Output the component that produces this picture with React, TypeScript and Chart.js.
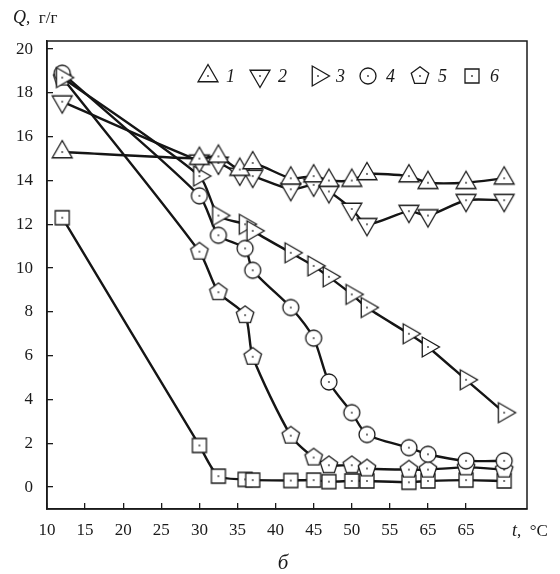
import React, { useEffect, useRef } from "react";
import { Chart, registerables } from "chart.js";

Chart.register(...registerables);

// ---- data ----
const tempsTri = [12, 30, 32.5, 35.3, 37, 42, 45, 47, 50, 52, 57.5, 60, 65, 70];
const tempsOther = [12, 30, 32.5, 36, 37, 42, 45, 47, 50, 52, 57.5, 60, 65, 70];
const series1 = [15.3, 15.0, 15.1, 14.5, 14.8, 14.1, 14.2, 14.0, 14.0, 14.3, 14.2, 13.9, 13.9, 14.1];
const series2 = [17.6, 14.9, 14.8, 14.3, 14.2, 13.6, 13.8, 13.5, 12.7, 12.0, 12.6, 12.4, 13.1, 13.1];
const series3 = [18.7, 14.2, 12.4, 12.0, 11.7, 10.7, 10.1, 9.6, 8.8, 8.2, 7.0, 6.4, 4.9, 3.4];
const series4 = [18.9, 13.3, 11.5, 10.9, 9.9, 8.2, 6.8, 4.8, 3.4, 2.4, 1.8, 1.5, 1.2, 1.2];
const series5 = [18.7, 10.75, 8.9, 7.85, 5.95, 2.35, 1.35, 1.0, 1.0, 0.85, 0.8, 0.8, 0.9, 0.8];
const series6 = [12.3, 1.9, 0.5, 0.35, 0.32, 0.3, 0.32, 0.25, 0.28, 0.28, 0.22, 0.28, 0.32, 0.28];
const seriesLabels = ["1", "2", "3", "4", "5", "6"];
const xTickValues = [10, 15, 20, 25, 30, 35, 40, 45, 50, 55, 60, 65];
const xTickLabels = ["10", "15", "20", "25", "30", "35", "40", "45", "50", "55", "65", "65"];
const yTickValues = [0, 2, 4, 6, 8, 10, 12, 14, 16, 18, 20];

const FONT = "'Liberation Serif', 'DejaVu Serif', serif";
const INK = "#1a1a1a";

type Kind = "up" | "down" | "right" | "circle" | "pentagon" | "square";

function makeMarker(kind: Kind): HTMLCanvasElement {
  const size = 28;
  const c = document.createElement("canvas");
  c.width = size;
  c.height = size;
  const ctx = c.getContext("2d")!;
  const cx = size / 2;
  const cy = size / 2;
  ctx.lineWidth = 1.3;
  ctx.strokeStyle = INK;
  ctx.fillStyle = "#ffffff";
  ctx.lineJoin = "miter";
  const poly = (n: number, r: number, startDeg: number) => {
    ctx.beginPath();
    for (let k = 0; k < n; k++) {
      const a = ((startDeg + (360 / n) * k) * Math.PI) / 180;
      const px = cx + r * Math.cos(a);
      const py = cy + r * Math.sin(a);
      if (k === 0) ctx.moveTo(px, py);
      else ctx.lineTo(px, py);
    }
    ctx.closePath();
  };
  if (kind === "up") poly(3, 11.5, -90);
  else if (kind === "down") poly(3, 11.5, 90);
  else if (kind === "right") poly(3, 11.5, 0);
  else if (kind === "pentagon") poly(5, 9.2, -90);
  else if (kind === "circle") {
    ctx.beginPath();
    ctx.arc(cx, cy, 8, 0, Math.PI * 2);
  } else {
    ctx.beginPath();
    ctx.rect(cx - 7, cy - 7, 14, 14);
  }
  ctx.fill();
  ctx.stroke();
  ctx.beginPath();
  ctx.fillStyle = "#333";
  ctx.arc(cx, cy, 0.9, 0, Math.PI * 2);
  ctx.fill();
  return c;
}

const legendXs = [208, 260, 318, 368, 420, 472];

const extrasPlugin = {
  id: "extras",
  afterDraw(chart: any) {
    const ctx = chart.ctx as CanvasRenderingContext2D;
    const a = chart.chartArea;
    ctx.save();
    // frame
    ctx.strokeStyle = INK;
    ctx.lineWidth = 1.5;
    ctx.strokeRect(a.left, a.top, a.right - a.left, a.bottom - a.top);
    // legend
    ctx.textBaseline = "middle";
    ctx.textAlign = "left";
    ctx.fillStyle = INK;
    chart.data.datasets.forEach((ds: any, i: number) => {
      const img = ds.pointStyle as HTMLCanvasElement;
      const x = legendXs[i];
      const y = 76;
      ctx.drawImage(img, x - img.width / 2, y - img.height / 2);
      ctx.font = `italic 18px ${FONT}`;
      ctx.fillText(ds.label, x + 18, y + 1);
    });
    // y axis title
    ctx.textBaseline = "alphabetic";
    ctx.font = `italic 18px ${FONT}`;
    ctx.fillText("Q", 13, 23);
    let w = ctx.measureText("Q").width;
    ctx.font = `17px ${FONT}`;
    ctx.fillText(",  г/г", 13 + w, 23);
    // x axis title
    ctx.font = `italic 18px ${FONT}`;
    ctx.fillText("t", 512, 536);
    w = ctx.measureText("t").width;
    ctx.font = `17px ${FONT}`;
    ctx.fillText(",  °C", 512 + w, 536);
    // caption
    ctx.textAlign = "center";
    ctx.font = `italic 21px ${FONT}`;
    ctx.fillText("б", 283, 569);
    ctx.restore();
  },
};

export default function App() {
  const ref = useRef<HTMLCanvasElement | null>(null);
  useEffect(() => {
    if (!ref.current) return;
    const kinds: Kind[] = ["up", "down", "right", "circle", "pentagon", "square"];
    const values = [series1, series2, series3, series4, series5, series6];
    const datasets = values.map((vals, i) => {
      const ts = i < 2 ? tempsTri : tempsOther;
      return {
        label: seriesLabels[i],
        data: vals.map((v, j) => ({ x: ts[j], y: v })),
        borderColor: "#151515",
        borderWidth: 2.4,
        backgroundColor: "#fff",
        pointStyle: makeMarker(kinds[i]),
        pointRadius: 8,
        tension: 0.25,
        fill: false,
      };
    });
    const tickFont = { family: FONT, size: 17 };
    const chart = new Chart(ref.current, {
      type: "line",
      data: { datasets },
      options: {
        responsive: false,
        animation: false,
        layout: { padding: { top: 41, right: 33, left: 0, bottom: 0 } },
        plugins: { legend: { display: false }, tooltip: { enabled: false } },
        scales: {
          x: {
            type: "linear",
            min: 10,
            max: 73,
            afterBuildTicks: (s: any) => {
              s.ticks = xTickValues.map((v) => ({ value: v }));
            },
            afterFit: (s: any) => {
              s.height = 65;
            },
            grid: { drawOnChartArea: false, tickLength: -6, color: INK, lineWidth: 1.3 },
            border: { color: INK, width: 1.5 },
            ticks: {
              callback: (_v: any, i: number) => xTickLabels[i],
              font: tickFont,
              color: INK,
              padding: 17,
              maxRotation: 0,
              autoSkip: false,
            },
          },
          y: {
            type: "linear",
            min: -1,
            max: 20.37,
            afterBuildTicks: (s: any) => {
              s.ticks = yTickValues.map((v) => ({ value: v }));
            },
            afterFit: (s: any) => {
              s.width = 47;
            },
            grid: { drawOnChartArea: false, tickLength: -6, color: INK, lineWidth: 1.3 },
            border: { color: INK, width: 1.5 },
            ticks: {
              callback: (v: any) => String(v),
              font: tickFont,
              color: INK,
              padding: 20,
              autoSkip: false,
            },
          },
        },
      },
      plugins: [extrasPlugin],
    });
    return () => chart.destroy();
  }, []);
  return (
    <div style={{ position: "absolute", left: 0, top: 0, width: 560, height: 574, background: "#fff" }}>
      <canvas ref={ref} width={560} height={574} style={{ display: "block" }} />
    </div>
  );
}
